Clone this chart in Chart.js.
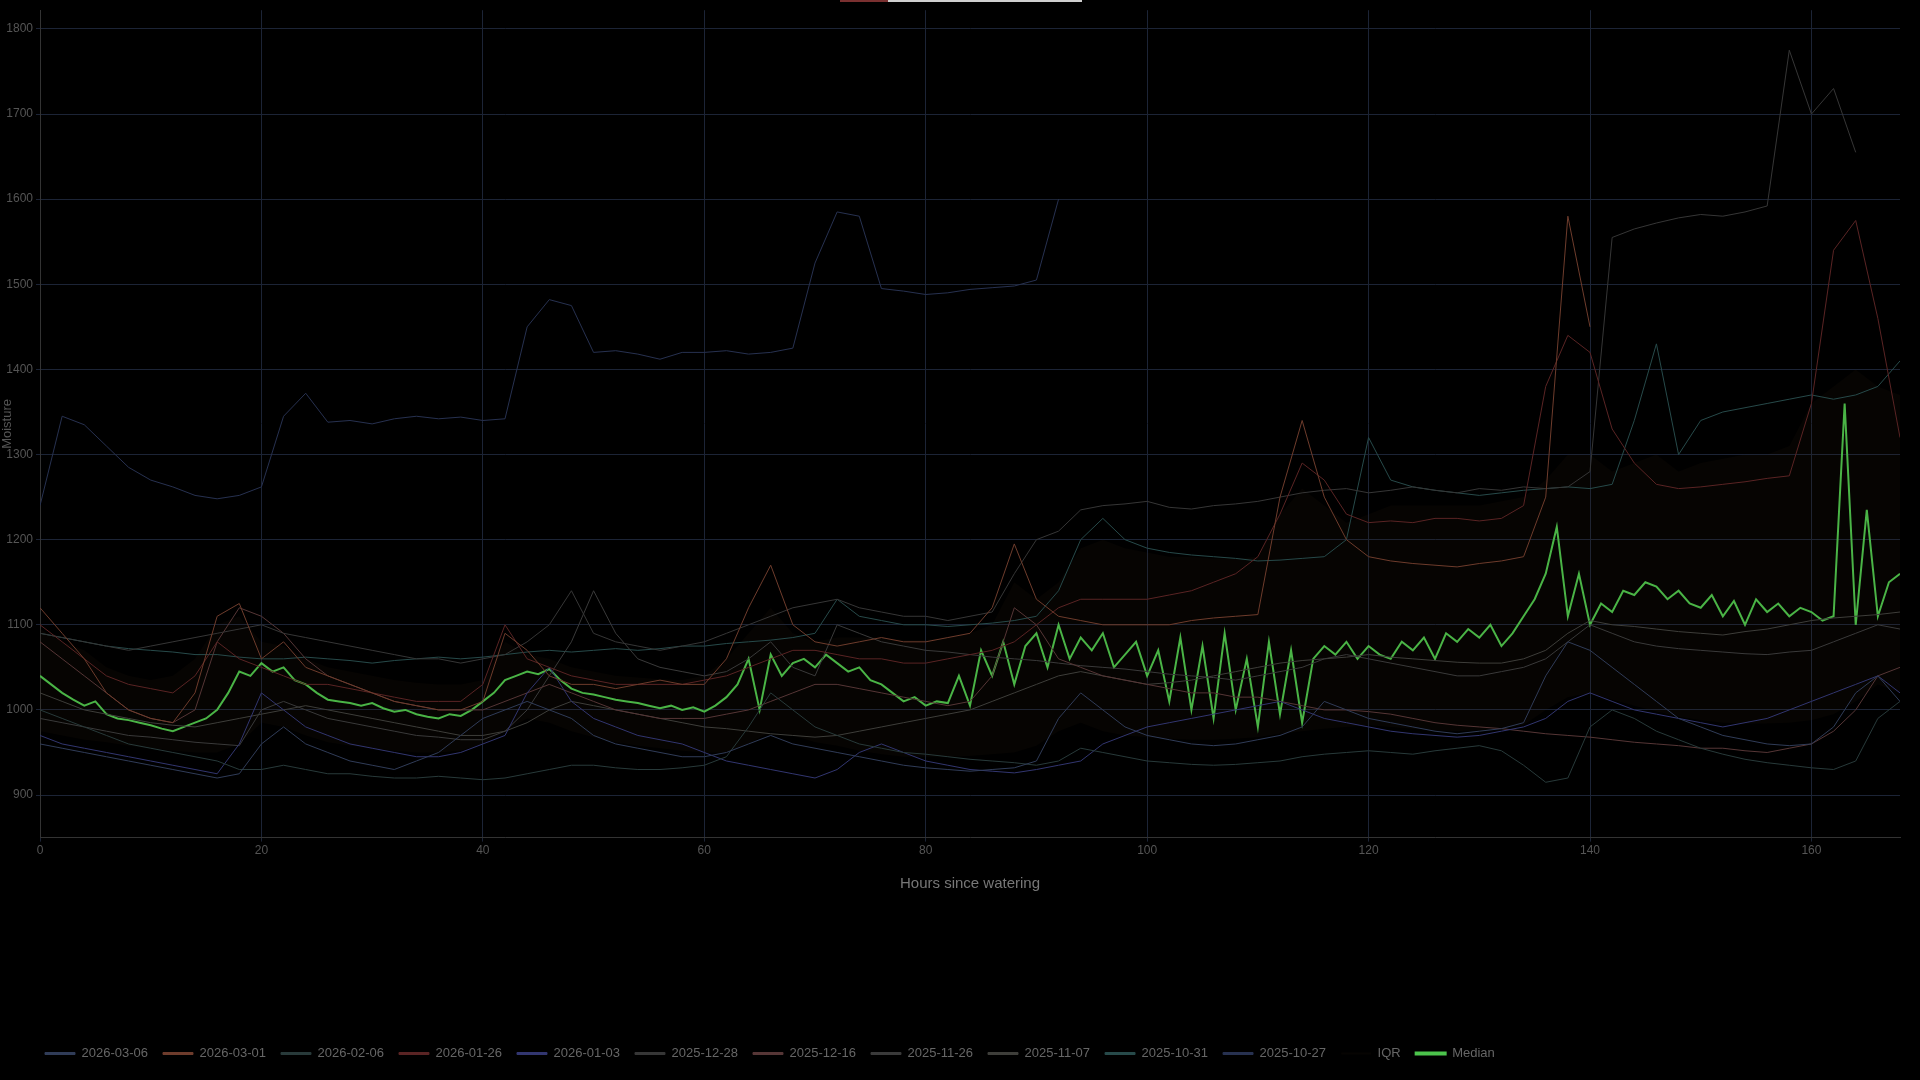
<!DOCTYPE html>
<html>
<head>
<meta charset="utf-8">
<script src="https://cdn.jsdelivr.net/npm/chart.js@4/dist/chart.umd.min.js"></script>
<style>
  html, body { margin: 0; background: #000; }
  #wrap { position: relative; width: 1920px; height: 1080px; }
  #topbar { position: absolute; top: 0; left: 840px; width: 242px; height: 2px;
    background: linear-gradient(90deg, #7a3030 0, #7a3030 48px, #cfcfcf 48px); }
</style>
</head>
<body>
<div id="wrap">
  <div id="topbar"></div>
  <canvas id="chart" width="1920" height="1080"></canvas>
</div>
<script>
"use strict";

// sample hours for the individual runs (every 2 h) and for the median (every 1 h)
const hours = [];
for (let h = 0; h <= 168; h += 2) hours.push(h);
const medianHours = [];
for (let h = 0; h <= 168; h++) medianHours.push(h);

const pad = n => Array(n).fill(null);

const run20260306 = [960,955,950,945,940,935,930,925,920,925, 960,980,960,950,940,935,930,940,950,970,
  990,1000,1010,1000,990,970,960,955,950,945, 945,950,960,970,960,955,950,945,940,935,
  932,930,928,930,932,940,990,1020,1000,980, 970,965,960,958,960,965,970,980,1010,1000,
  990,985,980,975,972,975,978,985,1040,1080, 1070,1050,1030,1010,990,980,970,965,960,958,
  960,980,1020,1040,1010];
const run20260301 = [1120,1090,1060,1020,1000,990,985,1020,1110,1125, 1060,1080,1050,1040,1030,1020,1010,1005,1000,1000,
  1010,1090,1070,1040,1030,1030,1025,1030,1035,1030, 1030,1060,1120,1170,1100,1080,1075,1080,1085,1080,
  1080,1085,1090,1120,1195,1130,1110,1105,1100,1100, 1100,1100,1105,1108,1110,1112,1250,1340,1250,1200,
  1180,1175,1172,1170,1168,1172,1175,1180,1250,1580, 1450, ...pad(14)];
const run20260206 = [1000,990,980,970,960,955,950,945,940,930, 930,935,930,925,925,922,920,920,922,920,
  918,920,925,930,935,935,932,930,930,932, 935,945,980,1020,1000,980,970,960,955,950,
  948,945,942,940,938,935,940,955,950,945, 940,938,936,935,936,938,940,945,948,950,
  952,950,948,952,955,958,952,935,915,920, 980,1000,990,975,965,955,948,942,938,935,
  932,930,940,990,1010];
const run20260126 = [1100,1080,1060,1040,1030,1025,1020,1040,1080,1060, 1050,1040,1030,1030,1025,1020,1015,1010,1010,1010,
  1030,1100,1060,1050,1040,1035,1030,1030,1030,1030, 1035,1040,1050,1060,1070,1070,1065,1060,1060,1055,
  1055,1060,1065,1070,1080,1100,1120,1130,1130,1130, 1130,1135,1140,1150,1160,1180,1230,1290,1270,1230,
  1220,1222,1220,1225,1225,1222,1225,1240,1380,1440, 1420,1330,1290,1265,1260,1262,1265,1268,1272,1275,
  1360,1540,1575,1460,1320];
const run20260103 = [970,960,955,950,945,940,935,930,925,960, 1020,1000,980,970,960,955,950,945,945,950,
  960,970,1020,1050,1010,990,980,970,965,960, 950,940,935,930,925,920,930,950,960,950,
  940,935,930,928,926,930,935,940,960,970, 980,985,990,995,1000,1005,1010,1000,990,985,
  980,975,972,970,968,970,975,980,990,1010, 1020,1010,1000,995,990,985,980,985,990,1000,
  1010,1020,1030,1040,1020];
const run20251228 = [1090,1085,1080,1075,1070,1075,1080,1085,1090,1095, 1100,1090,1085,1080,1075,1070,1065,1060,1060,1055,
  1060,1065,1080,1100,1140,1090,1080,1075,1070,1075, 1080,1090,1100,1110,1120,1125,1130,1120,1115,1110,
  1110,1105,1110,1115,1160,1200,1210,1235,1240,1242, 1245,1238,1236,1240,1242,1245,1250,1255,1258,1260,
  1255,1258,1262,1258,1255,1260,1258,1262,1260,1262, 1280,1555,1565,1572,1578,1582,1580,1585,1592,1775,
  1700,1730,1655,null,null];
const run20251216 = [1080,1060,1040,1020,1000,990,985,1000,1080,1120, 1110,1090,1060,1040,1030,1020,1010,1005,1000,1000,
  1000,1010,1020,1030,1020,1010,1000,995,990,990, 990,995,1000,1010,1020,1030,1030,1025,1020,1015,
  1010,1005,1010,1040,1120,1100,1060,1050,1040,1035, 1030,1025,1020,1020,1015,1015,1010,1005,1000,1000,
  998,995,990,985,982,980,978,975,972,970, 968,965,962,960,958,955,955,952,950,955,
  960,975,1000,1040,1050];
const run20251126 = [990,985,980,975,970,968,965,962,960,958, 1000,1010,1000,990,985,980,975,970,968,965,
  965,975,1000,1040,1080,1140,1090,1060,1050,1045, 1040,1045,1060,1080,1050,1040,1100,1090,1080,1075,
  1070,1068,1065,1062,1060,1058,1055,1052,1050,1048, 1045,1042,1040,1038,1035,1040,1045,1050,1060,1065,
  1060,1055,1050,1045,1040,1040,1045,1050,1060,1080, 1100,1090,1080,1075,1072,1070,1068,1066,1065,1068,
  1070,1080,1090,1100,1095];
const run20251107 = [1020,1010,1000,995,990,985,982,980,985,990, 995,1000,1005,1000,995,990,985,980,975,970,
  970,975,985,1000,1010,1005,1000,995,990,985, 980,978,975,972,970,968,970,975,980,985,
  990,995,1000,1010,1020,1030,1040,1045,1040,1035, 1030,1032,1035,1040,1045,1050,1055,1058,1060,1062,
  1065,1062,1060,1058,1056,1055,1055,1060,1070,1090, 1105,1100,1098,1095,1092,1090,1088,1092,1095,1100,
  1105,1108,1110,1112,1115];
const run20251031 = [1090,1085,1080,1075,1072,1070,1068,1065,1065,1062, 1060,1060,1062,1060,1058,1055,1058,1060,1062,1060,
  1062,1065,1068,1070,1068,1070,1072,1070,1072,1075, 1075,1078,1080,1082,1085,1090,1130,1110,1105,1100,
  1100,1098,1100,1102,1105,1110,1140,1200,1225,1200, 1190,1185,1182,1180,1178,1175,1176,1178,1180,1200,
  1320,1270,1262,1258,1255,1252,1255,1258,1260,1262, 1260,1265,1340,1430,1300,1340,1350,1355,1360,1365,
  1370,1365,1370,1380,1410];
const run20251027 = [1240,1345,1335,1310,1285,1270,1262,1252,1248,1252, 1262,1345,1372,1338,1340,1336,1342,1345,1342,1344,
  1340,1342,1450,1482,1475,1420,1422,1418,1412,1420, 1420,1422,1418,1420,1425,1525,1585,1580,1495,1492,
  1488,1490,1494,1496,1498,1505,1600, ...pad(38)];

const iqrLow = [975,970,965,962,958,955,952,950,950,960, 985,980,970,962,958,955,952,950,950,952,
  960,975,990,985,975,968,962,958,955,952, 950,950,960,975,970,962,958,952,948,945,
  945,945,946,948,950,958,975,985,975,970, 968,966,965,965,966,968,972,975,978,980,
  982,980,978,976,975,976,978,982,1000,1015, 1020,1012,1005,998,992,988,985,984,984,985,
  988,995,1010,1030,1020];
const iqrHigh = [1095,1080,1070,1050,1040,1035,1040,1060,1100,1110, 1080,1075,1060,1050,1045,1040,1035,1032,1030,1030,
  1035,1080,1065,1060,1050,1045,1040,1038,1036,1035, 1040,1060,1090,1120,1090,1080,1085,1085,1085,1082,
  1082,1085,1090,1100,1150,1130,1150,1190,1200,1190, 1185,1180,1180,1178,1178,1180,1230,1260,1240,1220,
  1230,1240,1240,1240,1240,1240,1245,1250,1270,1300, 1300,1280,1290,1300,1280,1290,1295,1300,1300,1310,
  1360,1380,1400,1380,1370];

const median = [1040,1030,1020,1012,1005,1010,995,990,988,985, 982,978,975,980,985,990,1000,1020,1045,1040,
  1055,1045,1050,1035,1030,1020,1012,1010,1008,1005, 1008,1002,998,1000,995,992,990,995,993,1000,
  1010,1020,1035,1040,1045,1042,1048,1035,1025,1020, 1018,1015,1012,1010,1008,1005,1002,1005,1000,1003,
  998,1005,1015,1030,1060,1000,1065,1040,1055,1060, 1050,1065,1055,1045,1050,1035,1030,1020,1010,1015,
  1005,1010,1008,1040,1005,1070,1040,1080,1030,1075, 1090,1050,1100,1060,1085,1070,1090,1050,1065,1080,
  1040,1070,1010,1085,1000,1075,990,1090,1000,1060, 980,1080,995,1070,985,1060,1075,1065,1080,1060,
  1075,1065,1060,1080,1070,1085,1060,1090,1080,1095, 1085,1100,1075,1090,1110,1130,1160,1215,1110,1160,
  1100,1125,1115,1140,1135,1150,1145,1130,1140,1125, 1120,1135,1110,1128,1100,1130,1115,1125,1110,1120,
  1115,1105,1110,1360,1100,1235,1110,1150,1160];

const runs = [
  ["2026-03-06", run20260306, "#303c58"],
  ["2026-03-01", run20260301, "#6e3c2c"],
  ["2026-02-06", run20260206, "#283a3a"],
  ["2026-01-26", run20260126, "#5a2424"],
  ["2026-01-03", run20260103, "#323670"],
  ["2025-12-28", run20251228, "#363636"],
  ["2025-12-16", run20251216, "#563636"],
  ["2025-11-26", run20251126, "#3a3a3a"],
  ["2025-11-07", run20251107, "#3e3e3a"],
  ["2025-10-31", run20251031, "#274a4a"],
  ["2025-10-27", run20251027, "#273150"],
];

const toPoints = (xs, ys) => xs.map((x, i) => ({ x: x, y: ys[i] }));

// nudge the legend row to the right, like the original
const legendShift = {
  id: 'legendShift',
  afterLayout(chart) {
    chart.legend.left += 30;
    chart.legend.right += 30;
  },
};

document.addEventListener("DOMContentLoaded", function () {
  const datasets = runs.map(([label, values, color]) => ({
    label: label,
    data: toPoints(hours, values),
    borderColor: color,
    backgroundColor: color,
    borderWidth: 1,
    pointRadius: 0,
    tension: 0,
    spanGaps: false,
  }));
  datasets.push({
    label: '_iqrLow',
    data: toPoints(hours, iqrLow),
    borderWidth: 0,
    pointRadius: 0,
    fill: false,
  });
  datasets.push({
    label: 'IQR',
    data: toPoints(hours, iqrHigh),
    borderWidth: 0,
    borderColor: 'rgba(60,35,20,0.6)',
    backgroundColor: 'rgba(60,35,20,0.1)',
    pointRadius: 0,
    fill: '-1',
  });
  datasets.push({
    label: 'Median',
    data: toPoints(medianHours, median),
    borderColor: '#4cc44c',
    backgroundColor: '#4cc44c',
    borderWidth: 2,
    pointRadius: 0,
    tension: 0,
  });

  const keepSteps = (step) => (scale) => {
    scale.ticks = scale.ticks.filter(t => t.value % step === 0);
  };

  new Chart(document.getElementById("chart"), {
    type: 'line',
    data: { datasets: datasets },
    plugins: [legendShift],
    options: {
      responsive: false,
      animation: false,
      layout: { padding: { top: 10, right: 20, left: 0, bottom: 10 } },
      scales: {
        x: {
          type: 'linear',
          min: 0,
          max: 168,
          afterBuildTicks: keepSteps(20),
          ticks: { stepSize: 20, color: '#555', font: { size: 12 }, padding: 2 },
          grid: { color: '#1c2436', tickLength: 4 },
          border: { color: '#333' },
          title: {
            display: true, text: 'Hours since watering', color: '#777',
            font: { size: 15 }, padding: { top: 15, bottom: 139 },
          },
        },
        y: {
          min: 850,
          max: 1822,
          afterBuildTicks: keepSteps(100),
          afterFit: (scale) => { scale.width = 40; },
          ticks: { stepSize: 100, autoSkip: false, color: '#555', font: { size: 12 }, padding: 3,
                   callback: v => String(v) },
          grid: { color: '#1c2436', tickLength: 4 },
          border: { color: '#333' },
          title: { display: true, text: 'Moisture', color: '#555', font: { size: 13 }, padding: 0 },
        },
      },
      plugins: {
        legend: {
          position: 'bottom',
          align: 'start',
          labels: {
            color: '#666',
            font: { size: 13 },
            boxWidth: 30,
            boxHeight: 2,
            padding: 15,
            filter: item => !item.text.startsWith('_'),
          },
        },
        tooltip: { enabled: false },
      },
    },
  });
});
</script>
</body>
</html>
